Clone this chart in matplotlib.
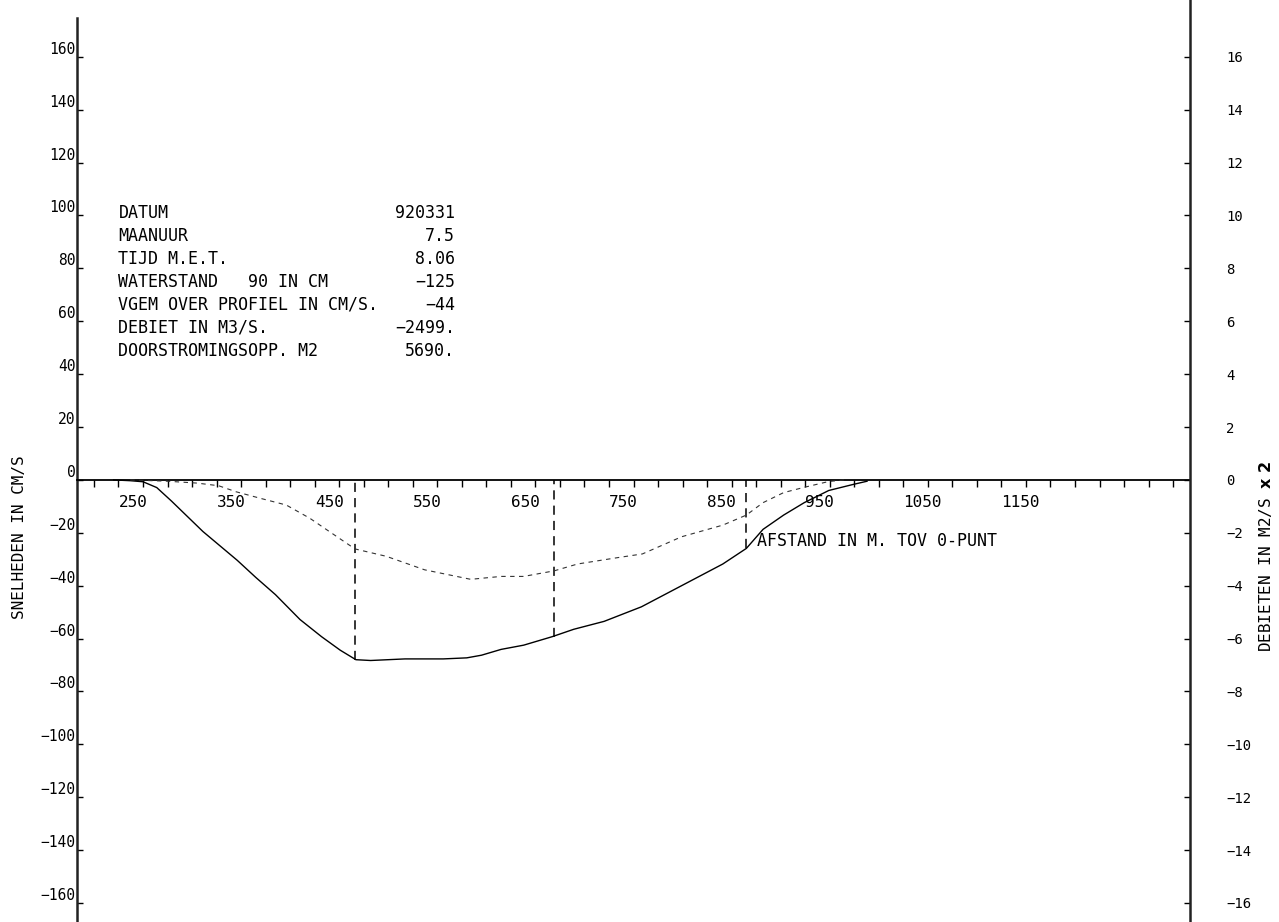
import matplotlib
matplotlib.use('Agg')
import matplotlib.pyplot as plt
from matplotlib.ticker import FixedLocator, FixedFormatter

afstand_v = [245, 262, 275, 289, 304, 336, 371, 390, 410, 435, 457, 476, 492, 507, 542, 581,
             605, 620, 640, 663, 692, 714, 745, 783, 824, 866, 890, 907, 928, 949, 974, 999, 1013]
snelheid = [0, -0.3, -0.7, -2.9, -8.0, -19.5, -30.4, -36.9, -43.4, -52.8, -59.3, -64.4, -68.0, -68.3,
            -67.7, -67.7, -67.3, -66.3, -64.1, -62.5, -59.3, -56.5, -53.5, -48.0, -40.0, -31.8,
            -25.9, -18.7, -13.3, -8.6, -4.0, -1.7, -0.5]

# debieten per m breedte (M2/S x 2), rechter as
afstand_q = [262, 300, 330, 352, 370, 395, 421, 445, 491, 523, 562, 609, 640, 663, 694, 718,
             757, 784, 824, 866, 890, 907, 928, 949, 974, 990]
debiet = [0, -0.05, -0.12, -0.22, -0.45, -0.70, -0.95, -1.45, -2.61, -2.89, -3.40, -3.76, -3.65,
          -3.65, -3.44, -3.18, -2.95, -2.80, -2.15, -1.71, -1.33, -0.86, -0.48, -0.28, -0.06, 0]

# meetverticalen
verticalen = [491, 694, 890]
vert_diepte = [-68.0, -59.3, -25.9]

info_labels = ['DATUM', 'MAANUUR', 'TIJD M.E.T.', 'WATERSTAND   90 IN CM',
               'VGEM OVER PROFIEL IN CM/S.', 'DEBIET IN M3/S.', 'DOORSTROMINGSOPP. M2']
info_values = ['920331', '7.5', '8.06', '\u2212125', '\u221244', '\u22122499.', '5690.']

x_ticks = list(range(225, 1326, 25))
x_labels = [str(v) for v in range(250, 1151, 100)]
y_left = list(range(-160, 161, 20))
y_right = list(range(-16, 17, 2))

plt.rcParams['font.family'] = 'DejaVu Sans Mono'

W, H = 1279, 922
fig = plt.figure(figsize=(W / 100, H / 100), dpi=100)
ax = fig.add_axes([77 / W, 0, (1190 - 77) / W, 1])
ymin, ymax = -167.2, 181.5
ax.set_xlim(207.7, 1342.2)
ax.set_ylim(ymin, ymax)

for s in ['top', 'right']:
    ax.spines[s].set_visible(False)
ax.spines['left'].set_bounds(ymin, 174.7)
ax.spines['left'].set_linewidth(1.8)
ax.spines['left'].set_color('#222222')
ax.spines['bottom'].set_position(('data', 0))
ax.spines['bottom'].set_linewidth(1.3)

# x-as op de nullijn
ax.xaxis.set_major_locator(FixedLocator(x_ticks))
xl = [str(v) if str(v) in x_labels else '' for v in x_ticks]
ax.xaxis.set_major_formatter(FixedFormatter(xl))
ax.tick_params(axis='x', direction='out', length=5, width=1, pad=6, labelsize=11.5)
for lab in ax.get_xticklabels():
    lab.set_ha('left')

# linker as
ax.yaxis.set_major_locator(FixedLocator(y_left))
ax.yaxis.set_major_formatter(FixedFormatter([str(v).replace('-', '\u2212') for v in y_left]))
ax.tick_params(axis='y', direction='in', length=4, width=1, pad=1, labelsize=10.5)
for lab in ax.get_yticklabels():
    lab.set_va('bottom')

# rechter as
ax2 = ax.twinx()
ax2.set_ylim(ymin / 10, ymax / 10)
for s in ['top', 'left', 'bottom']:
    ax2.spines[s].set_visible(False)
ax2.spines['right'].set_linewidth(1.8)
ax2.spines['right'].set_color('#222222')
ax2.yaxis.set_major_locator(FixedLocator(y_right))
ax2.yaxis.set_major_formatter(FixedFormatter([str(v).replace('-', '\u2212') for v in y_right]))
ax2.tick_params(axis='y', direction='in', length=4, width=1, pad=26, labelsize=10)

# curven
ax.plot(afstand_v, snelheid, color='black', lw=1.0)
ax2.plot(afstand_q, debiet, color='#333333', lw=0.8, dashes=(4, 4))
ax.vlines(verticalen, vert_diepte, 0, colors='black', lw=1.1, linestyles=(0, (6, 4)))

# tekstblok
for i, (lab, val) in enumerate(zip(info_labels, info_values)):
    y = 101 - i * 8.7
    ax.text(250, y, lab, fontsize=12, ha='left', va='center')
    ax.text(593, y, val, fontsize=12, ha='right', va='center')

ax.text(901, -23, 'AFSTAND IN M. TOV 0-PUNT', fontsize=12, ha='left', va='center')

fig.text(20 / W, 1 - 537 / H, 'SNELHEDEN IN CM/S', rotation=90, fontsize=11.5,
         ha='center', va='center')
fig.text(1265 / W, 1 - 556 / H, 'DEBIETEN IN M2/S $\\mathbf{x\\ 2}$', rotation=90, fontsize=11.5,
         ha='center', va='center')

fig.savefig('out.png', dpi=100)
